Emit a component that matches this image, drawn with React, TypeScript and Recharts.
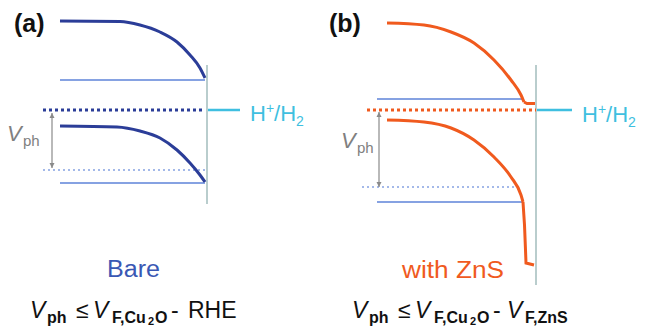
import React from "react";
import { ComposedChart, Line, XAxis, YAxis, Customized } from "recharts";

// x: position (arb. units), e: electron energy (arb. units, H+/H2 = 0)
// ---- Panel (a): Bare Cu2O ----
const cbCurveA = [
  { x: 6.0, e: 1.78 }, { x: 12.0, e: 1.77 }, { x: 14.0, e: 1.7 }, { x: 16.0, e: 1.56 },
  { x: 17.7, e: 1.36 }, { x: 19.0, e: 1.1 }, { x: 20.0, e: 0.84 }, { x: 20.5, e: 0.64 },
];
const cbFlatA = [{ x: 6.0, e: 0.6 }, { x: 20.5, e: 0.6 }];
const fermiA = [{ x: 4.3, e: 0 }, { x: 20.5, e: 0 }];
const redoxA = [{ x: 20.8, e: 0 }, { x: 24.0, e: 0 }];
const vbCurveA = [
  { x: 6.0, e: -0.32 }, { x: 11.7, e: -0.34 }, { x: 14.0, e: -0.42 }, { x: 16.0, e: -0.56 },
  { x: 17.7, e: -0.8 }, { x: 19.0, e: -1.06 }, { x: 20.0, e: -1.3 }, { x: 20.5, e: -1.44 },
];
const quasiA = [{ x: 4.3, e: -1.2 }, { x: 20.5, e: -1.2 }];
const vbFlatA = [{ x: 6.0, e: -1.46 }, { x: 20.5, e: -1.46 }];
const surfaceA = [{ x: 20.7, e: 0.9 }, { x: 20.7, e: -1.88 }];
const arrowA = [{ x: 5.2, e: -0.06 }, { x: 5.2, e: -1.16 }];

// ---- Panel (b): with ZnS ----
const cbCurveB = [
  { x: 38.7, e: 1.74 }, { x: 42.4, e: 1.7 }, { x: 45.1, e: 1.56 }, { x: 47.4, e: 1.34 },
  { x: 49.4, e: 1.0 }, { x: 51.1, e: 0.6 }, { x: 52.1, e: 0.3 }, { x: 52.4, e: 0.16 },
];
const cbStepB = [{ x: 52.4, e: 0.16 }, { x: 52.7, e: 0.13 }, { x: 53.5, e: 0.13 }];
const cbFlatB = [{ x: 37.7, e: 0.22 }, { x: 52.3, e: 0.22 }];
const fermiB = [{ x: 36.7, e: 0 }, { x: 53.6, e: 0 }];
const redoxB = [{ x: 53.7, e: 0 }, { x: 57.2, e: 0 }];
const vbCurveB = [
  { x: 38.7, e: -0.2 }, { x: 42.4, e: -0.24 }, { x: 45.1, e: -0.36 }, { x: 47.4, e: -0.6 },
  { x: 49.4, e: -0.94 }, { x: 51.1, e: -1.34 }, { x: 52.1, e: -1.7 }, { x: 52.3, e: -1.84 },
];
const vbTailB = [
  { x: 52.3, e: -1.84 }, { x: 52.45, e: -2.3 }, { x: 52.55, e: -2.8 }, { x: 52.6, e: -3.06 }, { x: 53.4, e: -3.1 },
];
const quasiB = [{ x: 36.2, e: -1.54 }, { x: 52.1, e: -1.54 }];
const vbFlatB = [{ x: 37.7, e: -1.84 }, { x: 52.3, e: -1.84 }];
const surfaceB = [{ x: 53.6, e: 0.9 }, { x: 53.6, e: -3.5 }];
const arrowB = [{ x: 37.9, e: -0.04 }, { x: 37.9, e: -1.54 }];

const X_DOMAIN = [0, 64.8];
const E_DOMAIN = [-4.34, 2.2];

const DARK = "#2b3d98";
const LIGHT = "#86a2e2";
const ORANGE = "#f05a1e";
const CYAN = "#3fbfe0";
const SURF = "#b9cdcd";
const GREY = "#8a8a8a";
const FONT = "'Liberation Sans', Arial, Helvetica, sans-serif";

const ArrowDot = (props: any) => {
  const { cx, cy, index } = props;
  if (cx == null || cy == null) return <g />;
  const up = index === 0;
  const d = up
    ? `M${cx - 2.5},${cy + 5} L${cx},${cy} L${cx + 2.5},${cy + 5} Z`
    : `M${cx - 2.5},${cy - 5} L${cx},${cy} L${cx + 2.5},${cy - 5} Z`;
  return <path key={`a${index}`} d={d} fill={GREY} stroke="none" />;
};

const Labels = () => (
  <g fontFamily={FONT}>
    <text x={14} y={32} fontSize={25} fontWeight="bold" fill="#111">(a)</text>
    <text x={329} y={32} fontSize={25} fontWeight="bold" fill="#111">(b)</text>

    <text x={250} y={121} fontSize={22} fill={CYAN}>
      H<tspan fontSize={14} dy={-8}>+</tspan>
      <tspan dy={8}>/H</tspan>
      <tspan fontSize={14} dy={5}>2</tspan>
    </text>
    <text x={582} y={122} fontSize={22} fill={CYAN}>
      H<tspan fontSize={14} dy={-8}>+</tspan>
      <tspan dy={8}>/H</tspan>
      <tspan fontSize={14} dy={5}>2</tspan>
    </text>

    <text x={7} y={141} fontSize={22} fontStyle="italic" fill="#808080">V</text>
    <text x={23} y={146} fontSize={15} fill="#808080">ph</text>
    <text x={341} y={148} fontSize={22} fontStyle="italic" fill="#808080">V</text>
    <text x={357} y={153} fontSize={15} fill="#808080">ph</text>

    <text x={107} y={277} fontSize={23} fill="#3a58b4" textLength={53} lengthAdjust="spacingAndGlyphs">Bare</text>
    <text x={402} y={278} fontSize={23} fill={ORANGE} textLength={102} lengthAdjust="spacingAndGlyphs">with ZnS</text>

    <g fill="#111">
      <text x={30} y={318} fontSize={23} fontStyle="italic">V</text>
      <text x={47} y={323} fontSize={16} fontWeight="bold">ph</text>
      <text x={76} y={318} fontSize={23}>≤</text>
      <text x={93} y={318} fontSize={23} fontStyle="italic">V</text>
      <text x={112} y={323} fontSize={16} fontWeight="bold">F,Cu</text>
      <text x={148} y={325} fontSize={11} fontWeight="bold">2</text>
      <text x={155} y={323} fontSize={16} fontWeight="bold">O</text>
      <text x={171} y={318} fontSize={23}>-</text>
      <text x={188} y={318} fontSize={23}>RHE</text>

      <text x={352} y={318} fontSize={23} fontStyle="italic">V</text>
      <text x={369} y={323} fontSize={16} fontWeight="bold">ph</text>
      <text x={398} y={318} fontSize={23}>≤</text>
      <text x={415} y={318} fontSize={23} fontStyle="italic">V</text>
      <text x={434} y={323} fontSize={16} fontWeight="bold">F,Cu</text>
      <text x={470} y={325} fontSize={11} fontWeight="bold">2</text>
      <text x={477} y={323} fontSize={16} fontWeight="bold">O</text>
      <text x={493} y={318} fontSize={23}>-</text>
      <text x={507} y={318} fontSize={23} fontStyle="italic">V</text>
      <text x={525} y={323} fontSize={16} fontWeight="bold">F,ZnS</text>
    </g>
  </g>
);

const common = { dataKey: "e", dot: false, activeDot: false, isAnimationActive: false, legendType: "none" as const };

export default function App() {
  return (
    <div style={{ position: "absolute", left: 0, top: 0, width: 648, height: 327, background: "#fff" }}>
      <ComposedChart width={648} height={327} margin={{ top: 0, right: 0, bottom: 0, left: 0 }}>
        <XAxis dataKey="x" type="number" domain={X_DOMAIN} hide allowDataOverflow />
        <YAxis type="number" domain={E_DOMAIN} hide allowDataOverflow width={0} />

        <Line {...common} data={surfaceA} type="linear" stroke={SURF} strokeWidth={2} />
        <Line {...common} data={surfaceB} type="linear" stroke={SURF} strokeWidth={2} />

        <Line {...common} data={cbFlatA} type="linear" stroke={LIGHT} strokeWidth={2} />
        <Line {...common} data={vbFlatA} type="linear" stroke={LIGHT} strokeWidth={2} />
        <Line {...common} data={quasiA} type="linear" stroke={LIGHT} strokeWidth={1.5} strokeDasharray="2 3" />
        <Line {...common} data={fermiA} type="linear" stroke={DARK} strokeWidth={3} strokeDasharray="3 3" />
        <Line {...common} data={redoxA} type="linear" stroke={CYAN} strokeWidth={2.5} />
        <Line {...common} data={cbCurveA} type="monotone" stroke={DARK} strokeWidth={3} />
        <Line {...common} data={vbCurveA} type="monotone" stroke={DARK} strokeWidth={3} />
        <Line {...common} data={arrowA} type="linear" stroke={GREY} strokeWidth={1.2} dot={ArrowDot} />

        <Line {...common} data={cbFlatB} type="linear" stroke={LIGHT} strokeWidth={2} />
        <Line {...common} data={vbFlatB} type="linear" stroke={LIGHT} strokeWidth={2} />
        <Line {...common} data={quasiB} type="linear" stroke={LIGHT} strokeWidth={1.5} strokeDasharray="2 3" />
        <Line {...common} data={fermiB} type="linear" stroke={ORANGE} strokeWidth={3} strokeDasharray="3 3" />
        <Line {...common} data={redoxB} type="linear" stroke={CYAN} strokeWidth={2.5} />
        <Line {...common} data={cbCurveB} type="monotone" stroke={ORANGE} strokeWidth={3} />
        <Line {...common} data={cbStepB} type="linear" stroke={ORANGE} strokeWidth={3} />
        <Line {...common} data={vbCurveB} type="monotone" stroke={ORANGE} strokeWidth={3} />
        <Line {...common} data={vbTailB} type="linear" stroke={ORANGE} strokeWidth={3} />
        <Line {...common} data={arrowB} type="linear" stroke={GREY} strokeWidth={1.2} dot={ArrowDot} />

        <Customized component={Labels} />
      </ComposedChart>
    </div>
  );
}
